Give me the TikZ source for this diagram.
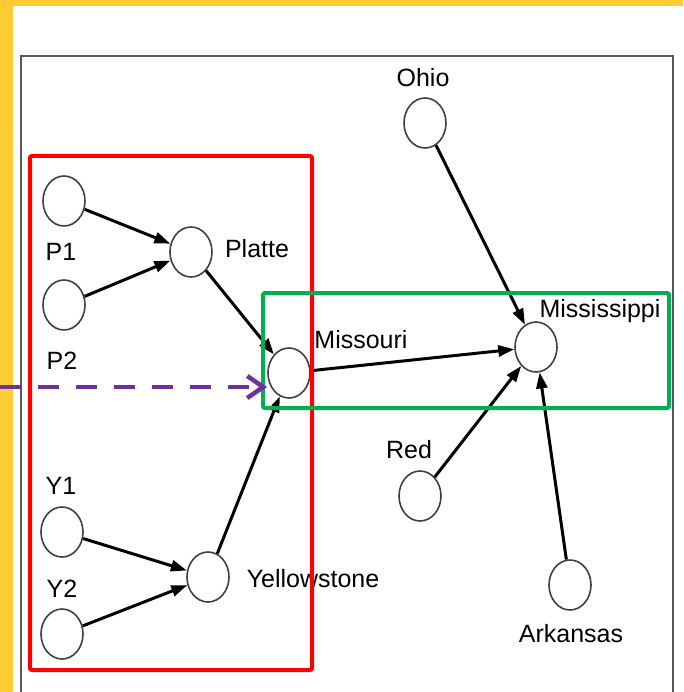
\documentclass[tikz,border=0pt]{standalone}
\usepackage{fontspec}
\setmainfont{Liberation Sans}
\usetikzlibrary{arrows.meta,shapes.geometric}

\definecolor{gold}{RGB}{255,204,51}
\definecolor{boxred}{RGB}{255,0,0}
\definecolor{boxgreen}{RGB}{0,176,80}
\definecolor{plum}{RGB}{112,48,160}

\begin{document}
\begin{tikzpicture}[
  x=1pt, y=-1pt,
  river/.style={draw=black!75, line width=1.6pt, ellipse, inner sep=0pt,
                minimum width=42pt, minimum height=50pt},
  lab/.style={font=\fontsize{25}{28}\selectfont, inner sep=0pt, anchor=base},
  flow/.style={-{Triangle[length=16pt,width=11pt]}, line width=3pt},
]
\useasboundingbox (0,0) rectangle (683,692);

% ---- slide margin and figure frame ------------------------------------------
\fill[gold] (0,0) rectangle (683,6);
\fill[gold] (0,0) rectangle (13,692);
\draw[black!65, line width=2.5pt] (21,694) |- (673,56) -- (673,694);

% ---- river network ----------------------------------------------------------
\node[river] (p1)   at (64,201)  {};
\node[river] (p2)   at (64,305)  {};
\node[river] (plat) at (191,252) {};
\node[river] (miss) at (289,373) {};
\node[river] (y1)   at (62,532)  {};
\node[river] (y2)   at (62,634)  {};
\node[river] (yell) at (208,577) {};
\node[river] (ohio) at (425,123) {};
\node[river] (mssp) at (536,347) {};
\node[river] (red)  at (420,496) {};
\node[river] (ark)  at (570,585) {};

\node[lab] (lp1)   at (61,260)  {P1};
\node[lab] (lp2)   at (62,369)  {P2};
\node[lab] (lplat) at (257,258) {Platte};
\node[lab] (lmiss) at (361,348) {Missouri};
\node[lab] (ly1)   at (61,494)  {Y1};
\node[lab] (ly2)   at (62,597)  {Y2};
\node[lab] (lyell) at (313,587) {Yellowstone};
\node[lab] (lohio) at (423,87)  {Ohio};
\node[lab] (lmssp) at (600,317) {Mississippi};
\node[lab] (lred)  at (409,458) {Red};
\node[lab] (lark)  at (571,642) {Arkansas};

\foreach \a/\b in {p1/plat, p2/plat, y1/yell, y2/yell, plat/miss, yell/miss,
                   miss/mssp, ohio/mssp, red/mssp, ark/mssp}
  \draw[flow] (\a) -- (\b);

% ---- highlighted sub-networks -----------------------------------------------
\draw[boxred, line width=4pt, rounded corners=2pt] (30,156) rectangle (312,670);
\draw[boxgreen, line width=4pt, rounded corners=2pt] (263,293) rectangle (669,408);

% incoming signal at the Missouri junction
\coordinate (inlet) at (0,387);
\draw[plum, line width=4.5pt, dash pattern=on 21pt off 17pt,
      -{Straight Barb[length=16pt,width=22pt]}] (inlet) -- (inlet -| miss.west);
\end{tikzpicture}
\end{document}
